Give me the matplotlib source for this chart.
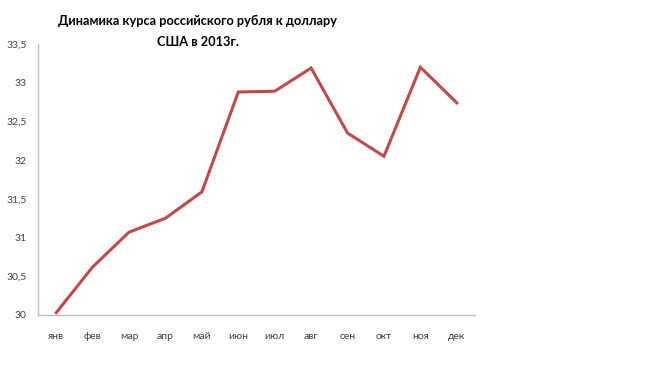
import matplotlib
matplotlib.use("Agg")
import matplotlib.pyplot as plt

months = ["янв", "фев", "мар", "апр", "май", "июн", "июл", "авг", "сен", "окт", "ноя", "дек"]
rates = [30.03, 30.62, 31.07, 31.25, 31.59, 32.88, 32.89, 33.19, 32.35, 32.05, 33.20, 32.74]
yticks = [30, 30.5, 31, 31.5, 32, 32.5, 33, 33.5]
ytick_labels = ["30", "30,5", "31", "31,5", "32", "32,5", "33", "33,5"]
title = "Динамика курса российского рубля к доллару\nСША в 2013г."

plt.rcParams['font.family'] = ['Lato', 'DejaVu Sans']
fig = plt.figure(figsize=(6.5, 3.66), dpi=100)
ax = fig.add_axes([38/650, 51/366, 437/650, 271/366])
x = list(range(len(months)))
ax.plot(x, rates, color="#BE4B48", linewidth=2.2, solid_joinstyle="miter")
ax.set_xlim(-0.5, len(months) - 0.5)
ax.set_ylim(30, 33.5)
ax.set_yticks(yticks)
ax.set_yticklabels(ytick_labels)
ax.set_xticks(x)
ax.set_xticklabels(months)
ax.tick_params(axis="both", length=0, labelsize=7.5, colors="#404040")
ax.tick_params(axis="x", pad=12)
ax.tick_params(axis="y", pad=8)
for s in ["top", "right"]:
    ax.spines[s].set_visible(False)
for s in ["left", "bottom"]:
    ax.spines[s].set_color("#BFBFBF")
    ax.spines[s].set_linewidth(1.0)
fig.text(198/650, 1 - 31.5/366, title, ha="center", va="center", fontsize=9.2, fontweight="bold",
         color="#000000", linespacing=1.95)
fig.savefig("out.png", dpi=100)
